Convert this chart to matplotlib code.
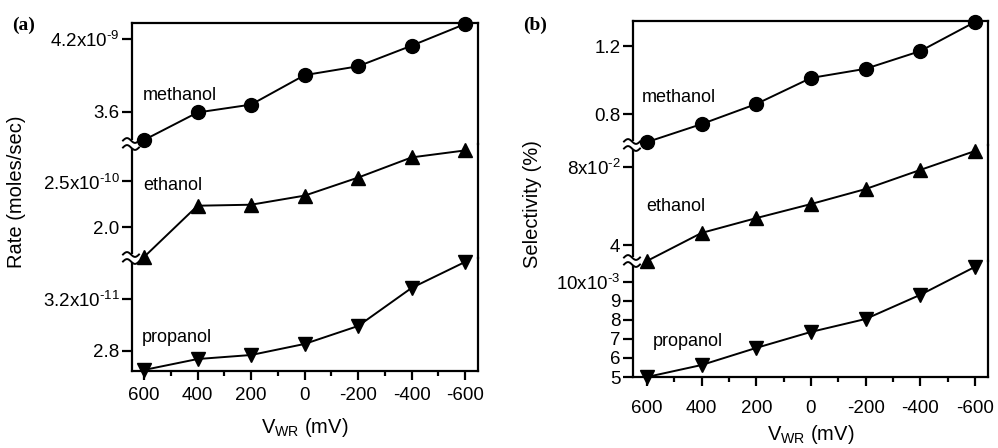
import numpy as np
import matplotlib
matplotlib.use('Agg')
import matplotlib.pyplot as plt
from matplotlib.lines import Line2D
from matplotlib.patches import Rectangle

plt.rcParams['font.family'] = ['Liberation Sans', 'DejaVu Sans']
plt.rcParams['mathtext.fontset'] = 'custom'
plt.rcParams['mathtext.rm'] = 'Liberation Sans'

# x axis: working electrode potential
v_wr = [600, 400, 200, 0, -200, -400, -600]
x_ticks = [600, 400, 200, 0, -200, -400, -600]
x_minor = [500, 300, 100, -100, -300, -500]
x_labels = ['600', '400', '200', '0', '-200', '-400', '-600']

# (a) rate (moles/sec) - methanol x1e-9, ethanol x1e-10, propanol x1e-11
rate_methanol = [3.365, 3.592, 3.657, 3.900, 3.973, 4.143, 4.322]
rate_ethanol = [1.674, 2.233, 2.244, 2.343, 2.540, 2.760, 2.836]
rate_propanol = [2.654, 2.738, 2.769, 2.854, 2.992, 3.285, 3.485]

# (b) selectivity (%) - methanol as is, ethanol x1e-2, propanol x1e-3
sel_methanol = [0.635, 0.741, 0.859, 1.012, 1.066, 1.170, 1.341]
sel_ethanol = [3.18, 4.62, 5.38, 6.10, 6.87, 7.85, 8.82]
sel_propanol = [5.0, 5.63, 6.53, 7.37, 8.05, 9.32, 10.79]

names = ['methanol', 'ethanol', 'propanol']
markers = ['o', '^', 'v']

W, H = 998, 448
fig = plt.figure(figsize=(W / 100, H / 100), dpi=100)


def fx(px):
    return px / W


def fy(py):
    return 1 - py / H


def draw_panel(left, right, bounds, xlim, series, ylims, yticks, yticklabels,
               name_pos, ylabel, ylabel_pos, xpad, xlabel_base, tag, tag_pos):
    for i in range(3):
        top, bot = bounds[i], bounds[i + 1]
        ax = fig.add_axes([fx(left), fy(bot), fx(right - left), (bot - top) / H])
        ax.set_zorder(3 - i)
        ax.patch.set_visible(False)
        ax.plot(v_wr, series[i], color='black', lw=1.4, marker=markers[i],
                ms=10, clip_on=False, zorder=5)
        ax.set_xlim(xlim)
        ax.set_ylim(ylims[i])
        ax.set_yticks(yticks[i])
        ax.set_yticklabels(yticklabels[i])
        for s in ax.spines.values():
            s.set_linewidth(1.6)
        ax.spines['top'].set_visible(i == 0)
        ax.spines['bottom'].set_visible(i == 2)
        ax.tick_params(axis='y', which='major', direction='out', length=7,
                       width=1.6, labelsize=13.5, pad=2)
        ax.tick_params(axis='y', which='minor', left=False)
        if i == 2:
            ax.set_xticks(x_ticks)
            ax.set_xticklabels(x_labels)
            ax.set_xticks(x_minor, minor=True)
            ax.tick_params(axis='x', which='major', direction='out', length=6.5,
                           width=1.6, labelsize=13.5, pad=xpad)
            ax.tick_params(axis='x', which='minor', direction='out', length=3.5,
                           width=1.6)
        else:
            ax.set_xticks([])

        # axis break mark below this segment
        if i < 2:
            yb = bot
            ax.add_patch(Rectangle((fx(left - 3), fy(yb + 4)), fx(6), 8 / H,
                                   transform=fig.transFigure, facecolor='white',
                                   edgecolor='none', zorder=4, clip_on=False))
            t = np.linspace(0, 1, 40)
            for off in (-3.5, 3.5):
                xs = left - 9 + 16 * t
                ys = yb + off - 2.4 * np.sin(2 * np.pi * t)
                ax.add_line(Line2D(fx(xs), fy(ys), transform=fig.transFigure,
                                   color='black', lw=1.4, zorder=4.5, clip_on=False))

    for n, (px, py) in zip(names, name_pos):
        fig.text(fx(px), fy(py), n, fontsize=13, ha='left', va='center')

    fig.text(fx(ylabel_pos[0]), fy(ylabel_pos[1]), ylabel, rotation=90,
             fontsize=14.5, ha='center', va='center')
    fig.text(fx((left + right) / 2), fy(xlabel_base), r'V$_{\mathregular{WR}}$ (mV)',
             fontsize=14.5, ha='center', va='baseline')
    fig.text(fx(tag_pos[0]), fy(tag_pos[1]), tag, fontsize=14, fontweight='bold',
             family='Liberation Serif', ha='left', va='center')


draw_panel(132, 478, [23, 144, 258, 371], (645, -648),
           [rate_methanol, rate_ethanol, rate_propanol],
           [(3.332, 4.330), (1.663, 2.906), (2.646, 3.515)],
           [[4.2, 3.6], [2.5, 2.0], [3.2, 2.8]],
           [[r'4.2x10$^{\text{-9}}$', '3.6'],
            [r'2.5x10$^{\text{-10}}$', '2.0'],
            [r'3.2x10$^{\text{-11}}$', '2.8']],
           [(143, 95), (143, 186), (142, 337)],
           'Rate (moles/sec)', (17, 192), 5, 433, '(a)', (12, 25))

draw_panel(633, 988, [21, 145, 261, 377], (651, -648),
           [sel_methanol, sel_ethanol, sel_propanol],
           [(0.618, 1.347), (3.18, 9.13), (5.0, 11.1)],
           [[1.2, 0.8], [8, 4], [10, 9, 8, 7, 6, 5]],
           [['1.2', '0.8'], [r'8x10$^{\text{-2}}$', '4'],
            [r'10x10$^{\text{-3}}$', '9', '8', '7', '6', '5']],
           [(642, 98), (646, 206), (653, 342)],
           'Selectivity (%)', (532, 204), 10, 440, '(b)', (523, 25))

fig.savefig('out.png', dpi=100)
